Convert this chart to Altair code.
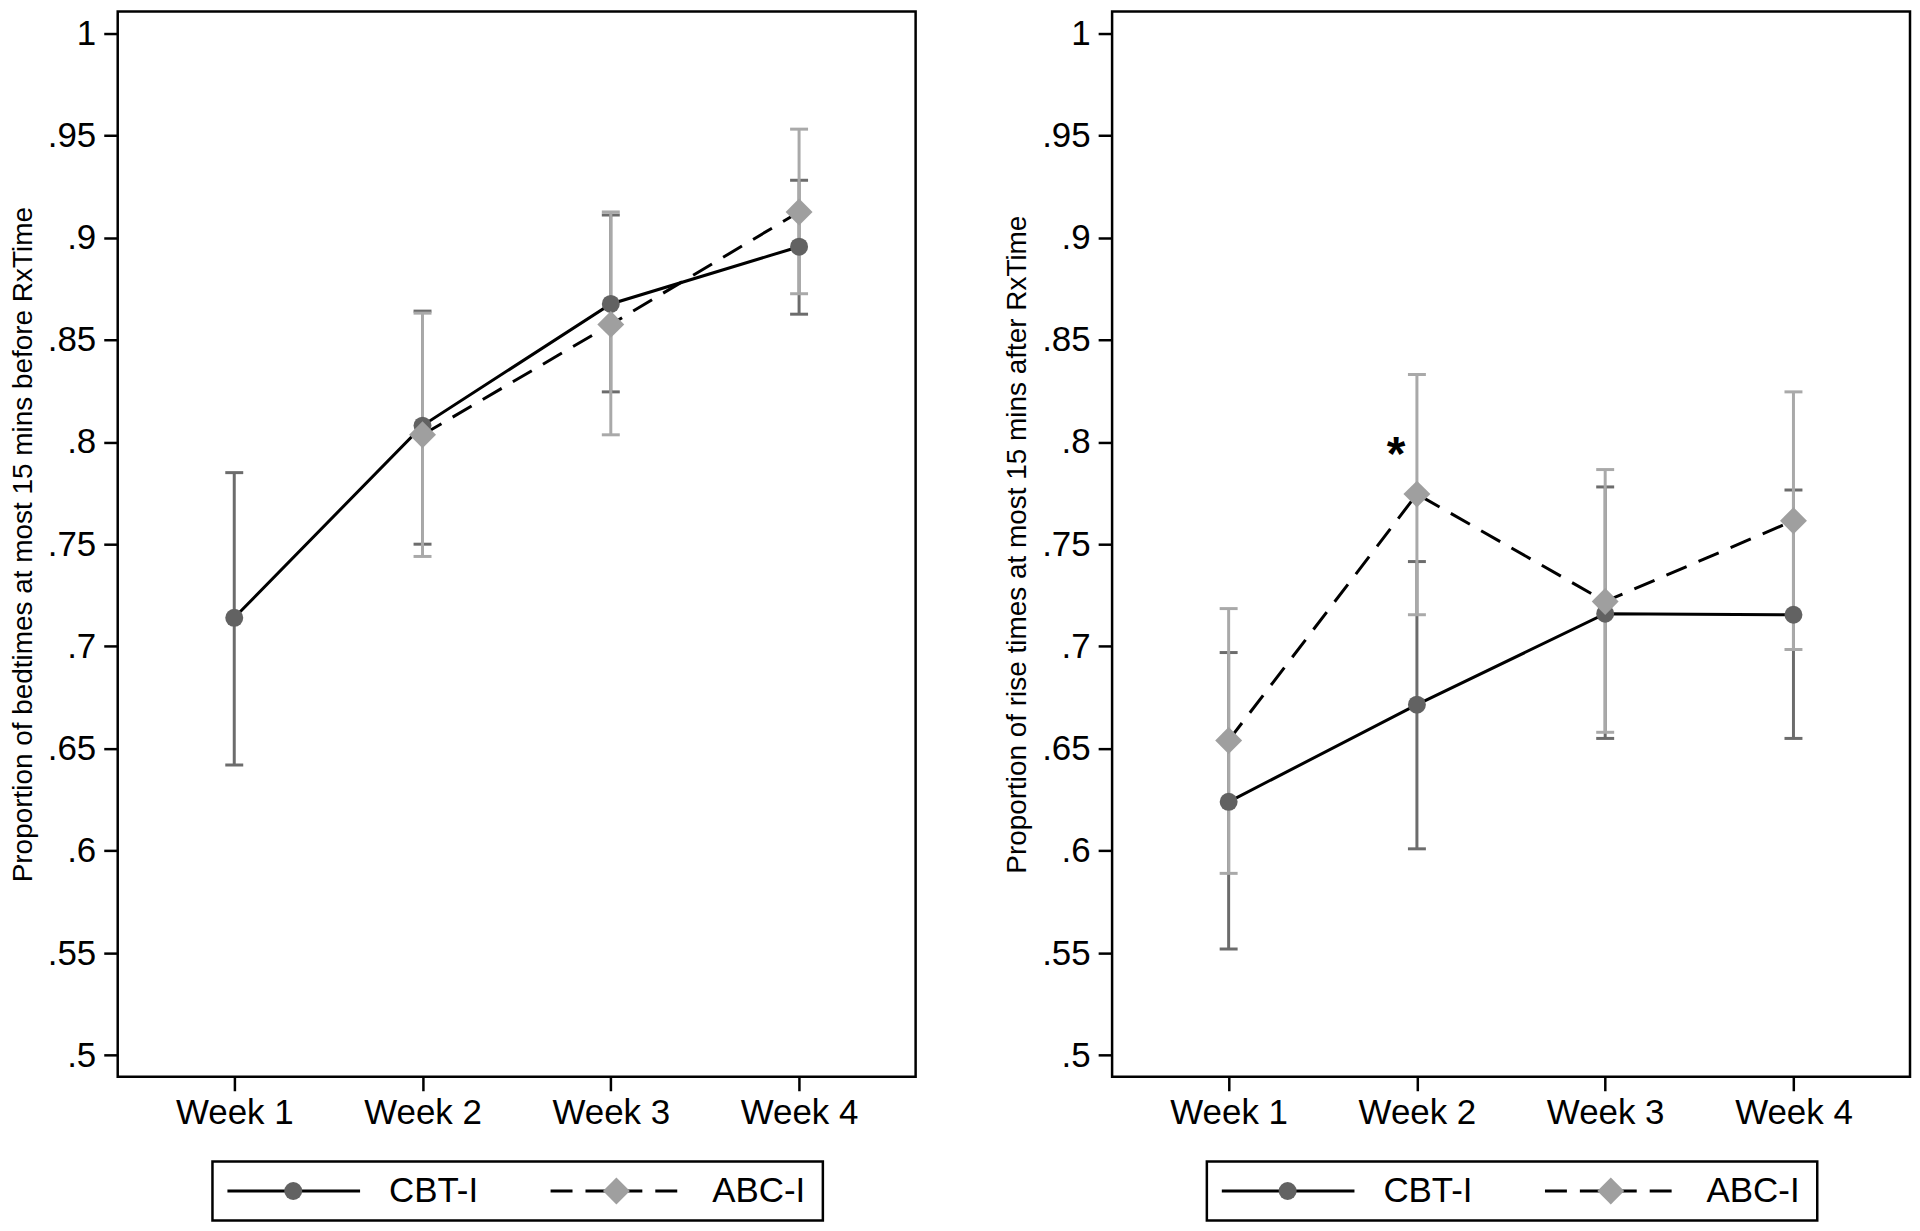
import altair as alt
import pandas as pd

# ---------------- data ----------------
WEEKS = ["Week 1", "Week 2", "Week 3", "Week 4"]
SERIES = ["CBT-I", "ABC-I"]

# Left panel: bedtimes at most 15 mins before RxTime
BED_CBT_MEAN = [0.714, 0.808, 0.8675, 0.8955]
BED_CBT_LO = [0.642, 0.750, 0.8245, 0.8625]
BED_CBT_HI = [0.785, 0.864, 0.911, 0.928]
BED_ABC_MEAN = [None, 0.8035, 0.8575, 0.9125]
BED_ABC_LO = [None, 0.744, 0.8035, 0.8725]
BED_ABC_HI = [None, 0.863, 0.9125, 0.953]

# Right panel: rise times at most 15 mins after RxTime
RISE_CBT_MEAN = [0.624, 0.6715, 0.716, 0.7155]
RISE_CBT_LO = [0.552, 0.601, 0.655, 0.655]
RISE_CBT_HI = [0.697, 0.7415, 0.778, 0.7765]
RISE_ABC_MEAN = [0.654, 0.7745, 0.722, 0.7615]
RISE_ABC_LO = [0.589, 0.7155, 0.658, 0.6985]
RISE_ABC_HI = [0.7185, 0.833, 0.7865, 0.8245]

Y_TICKS = [0.5, 0.55, 0.6, 0.65, 0.7, 0.75, 0.8, 0.85, 0.9, 0.95, 1.0]
Y_LABELS = [".5", ".55", ".6", ".65", ".7", ".75", ".8", ".85", ".9", ".95", "1"]
Y_DOMAIN = [0.4895, 1.0105]

BED_TITLE = "Proportion of bedtimes at most 15 mins before RxTime"
RISE_TITLE = "Proportion of rise times at most 15 mins after RxTime"

ANNOT_WEEK = "Week 2"
ANNOT_Y = 0.798
ANNOT_TEXT = "*"

# ---------------- styles ----------------
FONT = "Liberation Sans"
MARKER_COLORS = {"CBT-I": "#626262", "ABC-I": "#9f9f9f"}
CI_COLORS = {"CBT-I": "#6c6c6c", "ABC-I": "#a9a9a9"}
DASH = [22, 13]
W = 800
H = 1068
LEG_TOP = 1153
LEG_BOT = 1212
LEG_Y = (LEG_TOP + LEG_BOT) / 2


def make_df(cbt_m, cbt_lo, cbt_hi, abc_m, abc_lo, abc_hi):
    rows = []
    for s, m, lo, hi in [("CBT-I", cbt_m, cbt_lo, cbt_hi), ("ABC-I", abc_m, abc_lo, abc_hi)]:
        for wk, a, b, c in zip(WEEKS, m, lo, hi):
            if a is None:
                continue
            rows.append({"week": wk, "series": s, "mean": a, "lo": b, "hi": c})
    return pd.DataFrame(rows)


label_expr = " : ".join(
    f"abs(datum.value - {v}) < 1e-6 ? '{l}'" for v, l in zip(Y_TICKS, Y_LABELS)
) + " : ''"

x_enc = alt.X(
    "week:N",
    sort=WEEKS,
    scale=alt.Scale(type="point", domain=WEEKS, padding=0.619),
    axis=alt.Axis(title=None, labelAngle=0, labelPadding=5),
)


def panel(df, ytitle, annotate=False):
    base = alt.Chart(df)
    y_scale = alt.Scale(domain=Y_DOMAIN, nice=False, zero=False)
    layers = []
    # confidence intervals
    for s in SERIES:
        sub = base.transform_filter(alt.datum.series == s)
        layers.append(
            sub.mark_rule(strokeWidth=3, color=CI_COLORS[s]).encode(
                x=x_enc,
                y=alt.Y(
                    "lo:Q",
                    scale=y_scale,
                    axis=alt.Axis(
                        values=Y_TICKS,
                        labelExpr=label_expr,
                        title=ytitle,
                        labelPadding=8,
                        titlePadding=10,
                    ),
                ),
                y2="hi:Q",
            )
        )
        for f in ["lo", "hi"]:
            layers.append(
                sub.mark_tick(orient="horizontal", size=18, thickness=3, color=CI_COLORS[s], opacity=1).encode(
                    x=x_enc, y=alt.Y(f"{f}:Q", scale=y_scale)
                )
            )
    # lines
    layers.append(
        base.transform_filter(alt.datum.series == SERIES[0])
        .mark_line(color="black", strokeWidth=3)
        .encode(x=x_enc, y=alt.Y("mean:Q", scale=y_scale))
    )
    layers.append(
        base.transform_filter(alt.datum.series == SERIES[1])
        .mark_line(color="black", strokeWidth=3, strokeDash=DASH)
        .encode(x=x_enc, y=alt.Y("mean:Q", scale=y_scale))
    )
    # markers
    layers.append(
        base.transform_filter(alt.datum.series == SERIES[0])
        .mark_point(shape="circle", filled=True, size=324, opacity=1, color=MARKER_COLORS["CBT-I"])
        .encode(x=x_enc, y=alt.Y("mean:Q", scale=y_scale))
    )
    layers.append(
        base.transform_filter(alt.datum.series == SERIES[1])
        .mark_point(shape="diamond", filled=True, size=729, opacity=1, color=MARKER_COLORS["ABC-I"])
        .encode(x=x_enc, y=alt.Y("mean:Q", scale=y_scale))
    )
    if annotate:
        ann = pd.DataFrame({"week": [ANNOT_WEEK], "y": [ANNOT_Y], "t": [ANNOT_TEXT]})
        layers.append(
            alt.Chart(ann)
            .mark_text(font=FONT, fontSize=48, fontWeight="bold", color="black",
                       align="center", baseline="middle", dx=-21, dy=10)
            .encode(x=x_enc, y=alt.Y("y:Q", scale=y_scale), text="t:N")
        )
    # legend (drawn below the plot area)
    one = pd.DataFrame({"label": [SERIES[0]]})
    two = pd.DataFrame({"label": [SERIES[1]]})
    layers.append(
        alt.Chart(one).mark_rect(fill="white", stroke="black", strokeWidth=2.5).encode(
            x=alt.value(95), x2=alt.value(707), y=alt.value(LEG_TOP), y2=alt.value(LEG_BOT)
        )
    )
    layers.append(
        alt.Chart(one).mark_rule(color="black", strokeWidth=3).encode(
            x=alt.value(110), x2=alt.value(243), y=alt.value(LEG_Y)
        )
    )
    layers.append(
        alt.Chart(two).mark_rule(color="black", strokeWidth=3, strokeDash=DASH).encode(
            x=alt.value(434), x2=alt.value(566), y=alt.value(LEG_Y)
        )
    )
    layers.append(
        alt.Chart(one).mark_point(shape="circle", filled=True, size=324, opacity=1,
                                  color=MARKER_COLORS["CBT-I"]).encode(
            x=alt.value(176), y=alt.value(LEG_Y)
        )
    )
    layers.append(
        alt.Chart(two).mark_point(shape="diamond", filled=True, size=729, opacity=1,
                                  color=MARKER_COLORS["ABC-I"]).encode(
            x=alt.value(500), y=alt.value(LEG_Y)
        )
    )
    layers.append(
        alt.Chart(one).mark_text(font=FONT, fontSize=35, color="black", align="left",
                                 baseline="middle").encode(
            x=alt.value(272), y=alt.value(LEG_Y), text="label:N"
        )
    )
    layers.append(
        alt.Chart(two).mark_text(font=FONT, fontSize=35, color="black", align="left",
                                 baseline="middle").encode(
            x=alt.value(596), y=alt.value(LEG_Y), text="label:N"
        )
    )
    return alt.layer(*layers).properties(width=W, height=H)


left = panel(make_df(BED_CBT_MEAN, BED_CBT_LO, BED_CBT_HI, BED_ABC_MEAN, BED_ABC_LO, BED_ABC_HI), BED_TITLE)
right = panel(make_df(RISE_CBT_MEAN, RISE_CBT_LO, RISE_CBT_HI, RISE_ABC_MEAN, RISE_ABC_LO, RISE_ABC_HI),
              RISE_TITLE, annotate=True)

chart = (
    alt.hconcat(left, right, spacing=85)
    .properties(padding=0, background="white")
    .configure_view(stroke="black", strokeWidth=2.5)
    .configure_axis(
        domain=False,
        grid=False,
        tickColor="black",
        tickWidth=2.5,
        tickSize=14,
        labelFont=FONT,
        labelFontSize=35,
        labelColor="black",
        titleFont=FONT,
        titleFontSize=28,
        titleFontWeight="normal",
        titleColor="black",
    )
)

chart.save("out.html", embed_options={"renderer": "svg", "actions": False})
